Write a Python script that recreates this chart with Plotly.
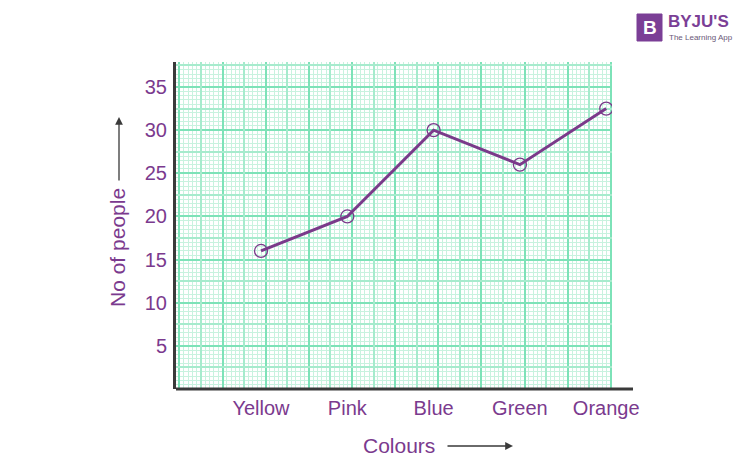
import plotly.graph_objects as go

# data
colours = ["Yellow", "Pink", "Blue", "Green", "Orange"]
people = [16, 20, 30, 26, 32.5]
y_ticks = [5, 10, 15, 20, 25, 30, 35]

purple = "#7b3a8e"
line_purple = "#7a3a8a"
major_green = "#7de2b8"
mid_green = "#a6ebcd"
minor_green = "#c8f2df"

# plot box in page pixels (750x472 window); the page body adds an 8px margin
PAD = 8
L, R, T, B = 176, 612, 62, 389
W, H = R - L, B - T


def px(x):
    return (x - L) / W


def py(y):
    return (B - y) / H


x_range = [-0.985, 4.067]
y_range = [0, 37.9]

fig = go.Figure()

fig.add_trace(go.Scatter(
    x=colours, y=people, mode="lines+markers",
    line=dict(color=line_purple, width=3),
    marker=dict(symbol="circle-open", size=13,
                line=dict(color="#54446a", width=1.3)),
    hoverinfo="x+y", showlegend=False))

# empty traces so the overlay grid axes get drawn
fig.add_trace(go.Scatter(x=[], y=[], xaxis="x2", yaxis="y2", showlegend=False))
fig.add_trace(go.Scatter(x=[], y=[], xaxis="x3", yaxis="y2", showlegend=False))

tick_font = dict(family="Liberation Sans, Arial", size=20, color=purple)

fig.update_layout(
    width=750 - PAD, height=472 - PAD,
    margin=dict(l=L - PAD, r=750 - R, t=T - PAD, b=472 - B),
    paper_bgcolor="white", plot_bgcolor="white",
    xaxis=dict(type="category", range=x_range, showgrid=False, zeroline=False,
               showline=False, ticks="outside", ticklen=1,
               tickcolor="rgba(0,0,0,0)", tickfont=tick_font),
    yaxis=dict(range=y_range, tickvals=y_ticks, showgrid=True,
               gridcolor=major_green, gridwidth=2, zeroline=False,
               showline=True, linecolor="#3a3a3a", linewidth=3,
               ticks="outside", ticklen=2, tickcolor="rgba(0,0,0,0)",
               tickfont=tick_font,
               minor=dict(dtick=0.5, tick0=0, showgrid=True,
                          gridcolor=minor_green, gridwidth=1)),
    xaxis2=dict(overlaying="x", range=x_range, showgrid=True, tick0=0.054,
                dtick=0.5, gridcolor=major_green, gridwidth=2,
                showticklabels=False, zeroline=False, ticks="",
                minor=dict(dtick=0.05, tick0=0.054, showgrid=True,
                           gridcolor=minor_green, gridwidth=1)),
    xaxis3=dict(overlaying="x", range=x_range, showgrid=True, tick0=0.304,
                dtick=0.5, gridcolor=mid_green, gridwidth=1.5,
                showticklabels=False, zeroline=False, ticks=""),
    yaxis2=dict(overlaying="y", range=y_range, showgrid=True, tick0=2.5,
                dtick=5, gridcolor=mid_green, gridwidth=1.5,
                showticklabels=False, zeroline=False, ticks=""),
)

# bottom axis line runs past the grid
fig.add_shape(type="line", xref="paper", yref="paper",
              x0=0, x1=px(633), y0=0, y1=0,
              line=dict(color="#3a3a3a", width=3))

title_font = dict(family="Liberation Sans, Arial", size=21, color=purple)

fig.add_annotation(text="No of people", xref="paper", yref="paper",
                   x=px(118), y=py(248), textangle=-90, showarrow=False,
                   font=title_font, xanchor="center", yanchor="middle")
fig.add_annotation(text="", xref="paper", yref="paper",
                   x=px(119), y=py(117), ax=0, ay=65, showarrow=True,
                   arrowhead=2, arrowsize=1.2, arrowwidth=1.3,
                   arrowcolor="#3a3a3a")

fig.add_annotation(text="Colours", xref="paper", yref="paper",
                   x=px(399), y=py(445), showarrow=False,
                   font=title_font, xanchor="center", yanchor="middle")
fig.add_annotation(text="", xref="paper", yref="paper",
                   x=px(513), y=py(446), ax=-67, ay=0, showarrow=True,
                   arrowhead=2, arrowsize=1.2, arrowwidth=1.3,
                   arrowcolor="#3a3a3a")

# BYJU'S logo
logo = "#7b3f96"
fig.add_shape(type="rect", xref="paper", yref="paper",
              x0=px(637), x1=px(662), y0=py(41), y1=py(14),
              fillcolor=logo, line=dict(color=logo, width=1))
fig.add_annotation(text="<b>B</b>", xref="paper", yref="paper",
                   x=px(649.5), y=py(27.5), showarrow=False,
                   xanchor="center", yanchor="middle",
                   font=dict(family="Liberation Sans, Arial", size=19,
                             color="white"))
fig.add_annotation(text="<b>BYJU'S</b>", xref="paper", yref="paper",
                   x=px(666), y=py(22), showarrow=False, xanchor="left",
                   yanchor="middle",
                   font=dict(family="Liberation Sans, Arial", size=17,
                             color=logo))
fig.add_annotation(text="The Learning App", xref="paper", yref="paper",
                   x=px(667), y=py(37), showarrow=False, xanchor="left",
                   yanchor="middle",
                   font=dict(family="Liberation Sans, Arial", size=8,
                             color="#6a5878"))

fig.write_html("out.html")
